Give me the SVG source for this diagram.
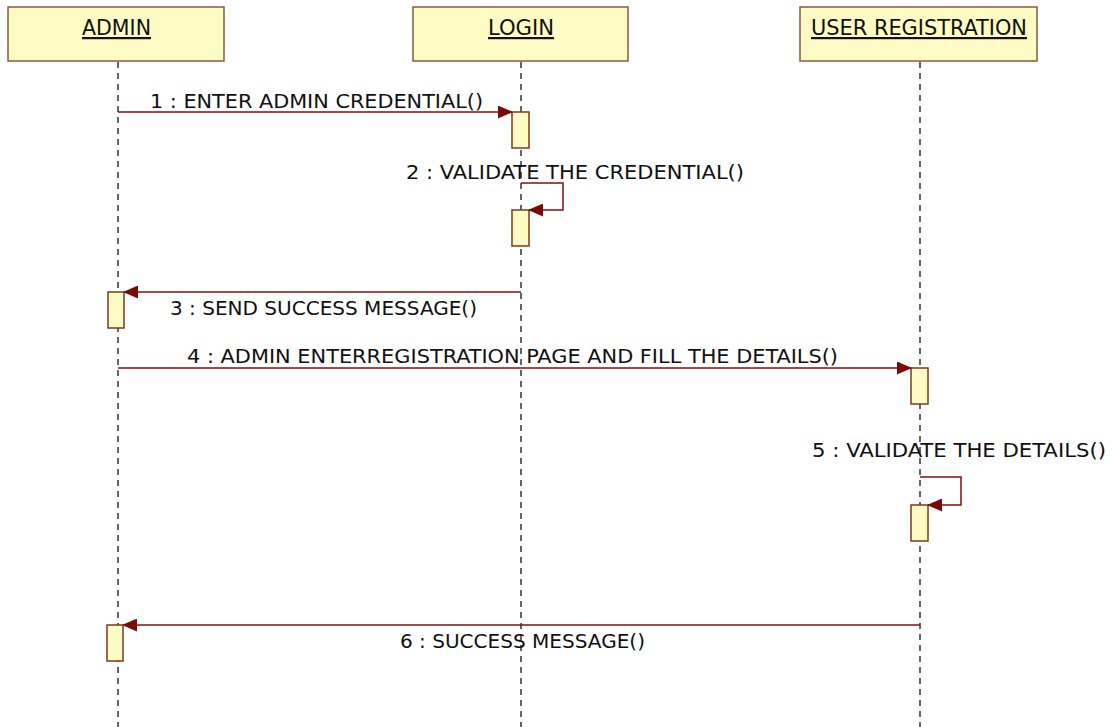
<svg xmlns="http://www.w3.org/2000/svg" width="1114" height="727" viewBox="0 0 1114 727">
<defs>
<style>
.head{fill:#fefcc4;stroke:#8b5a3c;stroke-width:1.5}
.act{fill:#fefcc4;stroke:#7a3a20;stroke-width:1.5}
.life{stroke:#333;stroke-width:1.5;stroke-dasharray:6,5;fill:none}
.msg{stroke:#7a1010;stroke-width:1.5;fill:none}
.t{font-family:"DejaVu Sans Condensed","DejaVu Sans",sans-serif;font-size:20px;fill:#111}
.h{font-family:"DejaVu Sans Condensed","DejaVu Sans",sans-serif;font-size:22px;fill:#111;text-decoration:underline}
</style>
<marker id="arr" markerWidth="15" markerHeight="13" refX="14" refY="6.5" orient="auto" markerUnits="userSpaceOnUse">
<path d="M0,0 L15,6.5 L0,13 Z" fill="#7a0a0a"/>
</marker>
</defs>
<rect width="1114" height="727" fill="#fff"/>
<g id="admin">
<rect class="head" x="8" y="7" width="216" height="54"/>
<text class="h" x="82" y="35" textLength="69" lengthAdjust="spacingAndGlyphs">ADMIN</text>
<line class="life" x1="118" y1="62" x2="118" y2="727"/>
<rect class="act" x="108" y="292" width="16" height="36"/>
<rect class="act" x="107" y="625" width="16" height="36"/>
</g>
<g id="login">
<rect class="head" x="413" y="7" width="215" height="54"/>
<text class="h" x="488" y="35" textLength="66" lengthAdjust="spacingAndGlyphs">LOGIN</text>
<line class="life" x1="521" y1="62" x2="521" y2="727"/>
<rect class="act" x="512" y="112" width="17" height="36"/>
<rect class="act" x="512" y="210" width="17" height="36"/>
</g>
<g id="userreg">
<rect class="head" x="800" y="7" width="237" height="54"/>
<text class="h" x="811" y="35" textLength="216" lengthAdjust="spacingAndGlyphs">USER REGISTRATION</text>
<line class="life" x1="920" y1="62" x2="920" y2="727"/>
<rect class="act" x="911" y="368" width="17" height="36"/>
<rect class="act" x="911" y="505" width="17" height="36"/>
</g>
<g id="connectors">
<line class="msg" x1="118" y1="112" x2="512" y2="112" marker-end="url(#arr)"/>
<text class="t" x="150" y="108" textLength="333" lengthAdjust="spacingAndGlyphs">1 : ENTER ADMIN CREDENTIAL()</text>
<polyline class="msg" points="521,183 563,183 563,210 529,210" marker-end="url(#arr)"/>
<text class="t" x="406" y="179" textLength="338" lengthAdjust="spacingAndGlyphs">2 : VALIDATE THE CREDENTIAL()</text>
<line class="msg" x1="521" y1="292" x2="124" y2="292" marker-end="url(#arr)"/>
<text class="t" x="170" y="315" textLength="307" lengthAdjust="spacingAndGlyphs">3 : SEND SUCCESS MESSAGE()</text>
<line class="msg" x1="118" y1="368" x2="911" y2="368" marker-end="url(#arr)"/>
<text class="t" x="187" y="363" textLength="651" lengthAdjust="spacingAndGlyphs">4 : ADMIN ENTERREGISTRATION PAGE AND FILL THE DETAILS()</text>
<polyline class="msg" points="920,477 961,477 961,505 928,505" marker-end="url(#arr)"/>
<text class="t" x="812" y="457" textLength="294" lengthAdjust="spacingAndGlyphs">5 : VALIDATE THE DETAILS()</text>
<line class="msg" x1="920" y1="625" x2="123" y2="625" marker-end="url(#arr)"/>
<text class="t" x="400" y="648" textLength="245" lengthAdjust="spacingAndGlyphs">6 : SUCCESS MESSAGE()</text>
</g>
</svg>
